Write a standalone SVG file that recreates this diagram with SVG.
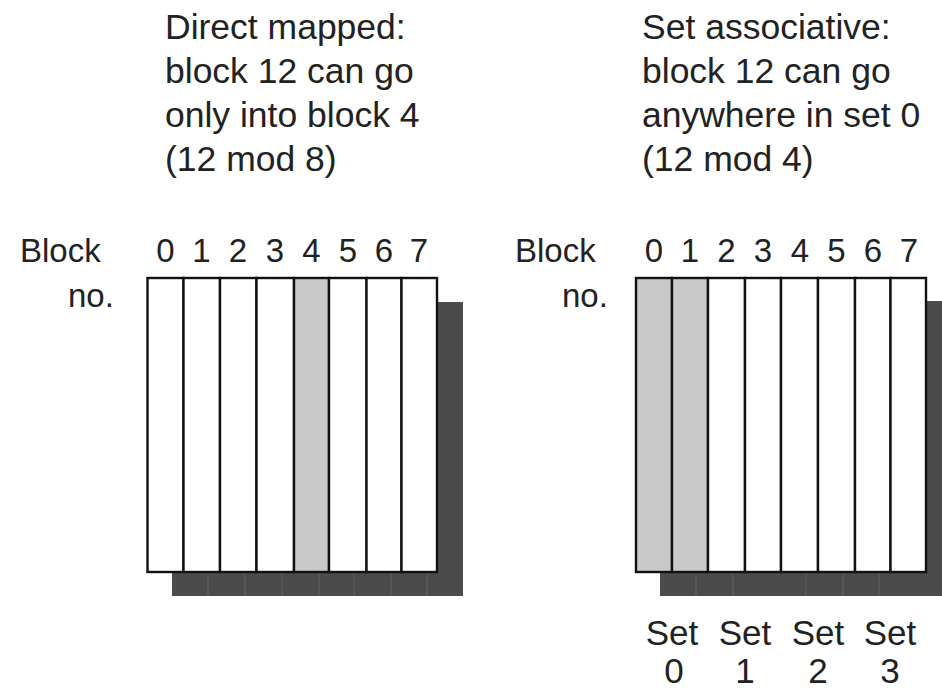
<svg xmlns="http://www.w3.org/2000/svg" width="942" height="691" viewBox="0 0 942 691">
  <defs>
    <style>
      .txt { font-family: "Liberation Sans", Arial, Helvetica, sans-serif; font-size: 33px; fill: #222; }
      .head { font-size: 35.5px; }
      .setl { font-size: 35px; }
      .mid { text-anchor: middle; }
      .shadow { fill: #4b4b4b; }
      .shline { stroke: #5e5e5e; stroke-width: 1.2; }
      .cell { fill: #ffffff; stroke: #111; stroke-width: 2.4; }
      .hit { fill: #c9c9c9; stroke: #111; stroke-width: 2.4; }
    </style>
  </defs>
  <rect width="942" height="691" fill="#ffffff"/>

  <!-- Direct mapped cache -->
  <g id="direct-mapped">
    <g class="txt head">
      <text x="165" y="39">Direct mapped:</text>
      <text x="165" y="83">block 12 can go</text>
      <text x="165" y="127">only into block 4</text>
      <text x="165" y="171">(12 mod 8)</text>
    </g>

    <text class="txt" x="20" y="262">Block</text>
    <text class="txt" x="68" y="307">no.</text>

    <g class="txt mid">
      <text x="165.5" y="262">0</text>
      <text x="201.5" y="262">1</text>
      <text x="238" y="262">2</text>
      <text x="275" y="262">3</text>
      <text x="311.5" y="262">4</text>
      <text x="348" y="262">5</text>
      <text x="384" y="262">6</text>
      <text x="419" y="262">7</text>
    </g>

    <rect class="shadow" x="172" y="302" width="291" height="294"/>
    <g class="shline">
      <line x1="208" y1="574" x2="208" y2="596"/>
      <line x1="245" y1="574" x2="245" y2="596"/>
      <line x1="282" y1="574" x2="282" y2="596"/>
      <line x1="319" y1="574" x2="319" y2="596"/>
      <line x1="354" y1="574" x2="354" y2="596"/>
      <line x1="391" y1="574" x2="391" y2="596"/>
      <line x1="427" y1="574" x2="427" y2="596"/>
    </g>

    <rect class="cell" x="147.5" y="278" width="36" height="294"/>
    <rect class="cell" x="183.5" y="278" width="36.5" height="294"/>
    <rect class="cell" x="220" y="278" width="36.5" height="294"/>
    <rect class="cell" x="256.5" y="278" width="37.5" height="294"/>
    <rect class="hit" x="294" y="278" width="35" height="294"/>
    <rect class="cell" x="329" y="278" width="37.5" height="294"/>
    <rect class="cell" x="366.5" y="278" width="35" height="294"/>
    <rect class="cell" x="401.5" y="278" width="35.5" height="294"/>
  </g>

  <!-- Set associative cache -->
  <g id="set-associative">
    <g class="txt head">
      <text x="642" y="39">Set associative:</text>
      <text x="642" y="83">block 12 can go</text>
      <text x="642" y="127">anywhere in set 0</text>
      <text x="642" y="171">(12 mod 4)</text>
    </g>

    <text class="txt" x="515" y="262">Block</text>
    <text class="txt" x="562" y="307">no.</text>

    <g class="txt mid">
      <text x="654" y="262">0</text>
      <text x="690" y="262">1</text>
      <text x="726.5" y="262">2</text>
      <text x="763" y="262">3</text>
      <text x="800" y="262">4</text>
      <text x="836.5" y="262">5</text>
      <text x="873" y="262">6</text>
      <text x="909" y="262">7</text>
    </g>

    <rect class="shadow" x="660" y="301" width="300" height="295"/>
    <g class="shline">
      <line x1="696" y1="574" x2="696" y2="596"/>
      <line x1="733" y1="574" x2="733" y2="596"/>
      <line x1="806" y1="574" x2="806" y2="596"/>
      <line x1="843" y1="574" x2="843" y2="596"/>
      <line x1="879" y1="574" x2="879" y2="596"/>
    </g>

    <rect class="hit" x="636" y="278" width="36" height="294"/>
    <rect class="hit" x="672" y="278" width="36" height="294"/>
    <rect class="cell" x="708" y="278" width="37" height="294"/>
    <rect class="cell" x="745" y="278" width="36" height="294"/>
    <rect class="cell" x="781" y="278" width="37" height="294"/>
    <rect class="cell" x="818" y="278" width="37" height="294"/>
    <rect class="cell" x="855" y="278" width="35.5" height="294"/>
    <rect class="cell" x="890.5" y="278" width="35.5" height="294"/>

    <g class="txt mid setl">
      <text x="672" y="645">Set</text>
      <text x="745" y="645">Set</text>
      <text x="818" y="645">Set</text>
      <text x="890" y="645">Set</text>
      <text x="674" y="683">0</text>
      <text x="745" y="683">1</text>
      <text x="818" y="683">2</text>
      <text x="890" y="683">3</text>
    </g>
  </g>
</svg>
